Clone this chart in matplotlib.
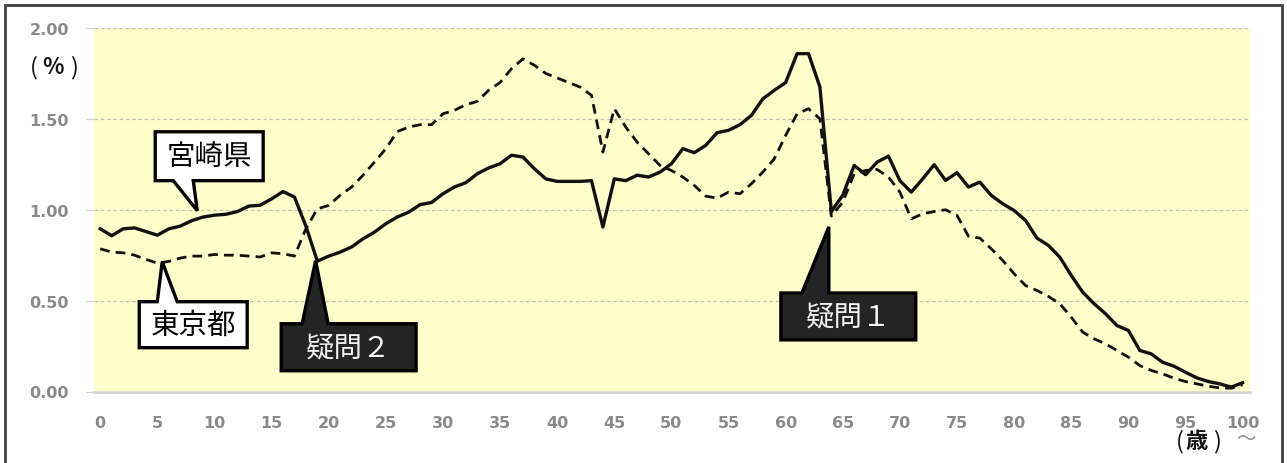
import matplotlib
matplotlib.use("Agg")
import matplotlib.pyplot as plt
from matplotlib.patches import Polygon, Rectangle
import numpy as np

plt.rcParams['font.family'] = ['Noto Sans CJK JP', 'DejaVu Sans']

ages = list(range(0, 101))
miyazaki = [0.895, 0.857, 0.895, 0.90, 0.88, 0.86, 0.895, 0.91, 0.94, 0.96,
            0.97, 0.975, 0.99, 1.02, 1.025, 1.06, 1.10, 1.07, 0.91, 0.717,
            0.745, 0.767, 0.795, 0.84, 0.877, 0.923, 0.96, 0.987, 1.028, 1.04,
            1.088, 1.125, 1.149, 1.198, 1.23, 1.253, 1.30, 1.29, 1.226, 1.17,
            1.156, 1.156, 1.156, 1.16, 0.905, 1.17, 1.16, 1.19, 1.18, 1.207,
            1.253, 1.336, 1.314, 1.354, 1.424, 1.437, 1.468, 1.519, 1.61, 1.657,
            1.70, 1.859, 1.859, 1.675, 0.99, 1.08, 1.244, 1.193, 1.262, 1.295,
            1.16, 1.097, 1.17, 1.248, 1.161, 1.204, 1.125, 1.152, 1.079, 1.033,
            0.996, 0.941, 0.844, 0.804, 0.739, 0.639, 0.547, 0.483, 0.428, 0.363,
            0.336, 0.226, 0.207, 0.161, 0.139, 0.106, 0.075, 0.055, 0.042, 0.024, 0.048]
tokyo = [0.785, 0.767, 0.763, 0.75, 0.727, 0.706, 0.716, 0.734, 0.745, 0.745,
         0.754, 0.75, 0.75, 0.745, 0.74, 0.763, 0.758, 0.745, 0.895, 1.005,
         1.024, 1.08, 1.125, 1.19, 1.262, 1.336, 1.43, 1.455, 1.468, 1.468,
         1.528, 1.547, 1.578, 1.596, 1.657, 1.70, 1.776, 1.83, 1.795, 1.75,
         1.725, 1.70, 1.675, 1.63, 1.317, 1.556, 1.455, 1.372, 1.308, 1.244,
         1.216, 1.18, 1.134, 1.075, 1.064, 1.097, 1.088, 1.143, 1.207, 1.28,
         1.409, 1.528, 1.556, 1.50, 0.965, 1.042, 1.198, 1.216, 1.222, 1.18,
         1.097, 0.95, 0.978, 0.99, 1.00, 0.969, 0.855, 0.844, 0.785, 0.721,
         0.648, 0.583, 0.556, 0.523, 0.483, 0.409, 0.327, 0.29, 0.262, 0.226,
         0.189, 0.143, 0.116, 0.097, 0.073, 0.055, 0.042, 0.029, 0.02, 0.018, 0.037]
x_ticks = list(range(0, 101, 5))
y_ticks = [0.0, 0.5, 1.0, 1.5, 2.0]
y_ticklabels = ["0.00", "0.50", "1.00", "1.50", "2.00"]

W, H = 1287, 464
fig = plt.figure(figsize=(W / 100, H / 100), dpi=100)
fig.patch.set_facecolor('white')
ax = fig.add_axes([94 / W, (H - 392.5) / H, (1250 - 94) / W, (392.5 - 29) / H])
ax.set_facecolor('#FFFFCC')
ax.set_xlim(-0.55, 100.65)
ax.set_ylim(0, 2.0)

for v in y_ticks[1:]:
    ax.axhline(v, color='#c4c4b4', lw=0.9, ls=(0, (3, 2)), zorder=1)

ax.plot(ages, tokyo, color='#111111', lw=2.0, ls=(0, (3.5, 2.2)), zorder=3)
ax.plot(ages, miyazaki, color='#111111', lw=2.4, zorder=4, solid_joinstyle='round')

for s in ['top', 'right', 'left']:
    ax.spines[s].set_visible(False)
ax.spines['bottom'].set_color('#d4d4d4')
ax.spines['bottom'].set_linewidth(1.8)

ax.set_xticks(x_ticks)
ax.set_xticklabels([str(t) for t in x_ticks], family='DejaVu Sans', fontweight='bold')
ax.set_yticks(y_ticks)
ax.set_yticklabels(y_ticklabels, family='DejaVu Sans', fontweight='bold')
ax.tick_params(axis='x', length=0, pad=17, labelsize=11.5, labelcolor='#8a8a8a')
ax.tick_params(axis='y', length=6, color='#d0d0d0', width=0.9, pad=12,
               labelsize=11.5, labelcolor='#8a8a8a')


def callout(x0, x1, y0, y1, bx0, bx1, tip, top_pointer, face, edge, text, tcolor):
    tx, ty = tip
    if top_pointer:
        verts = [(x0, y0), (x1, y0), (x1, y1), (bx1, y1), (tx, ty), (bx0, y1), (x0, y1)]
    else:
        verts = [(x0, y1), (x1, y1), (x1, y0), (bx1, y0), (tx, ty), (bx0, y0), (x0, y0)]
    ax.add_patch(Polygon(verts, closed=True, facecolor=face, edgecolor=edge,
                         lw=2.4, zorder=6, joinstyle='miter'))
    ax.text((x0 + x1) / 2, (y0 + y1) / 2, text, color=tcolor, fontsize=20.5,
            ha='center', va='center', zorder=7)


callout(4.81, 14.26, 1.160, 1.429, 6.39, 8.14, (8.49, 0.995), False,
        'white', 'black', '宮崎県', 'black')
callout(3.41, 12.86, 0.241, 0.494, 4.99, 6.74, (5.42, 0.714), True,
        'white', 'black', '東京都', 'black')
callout(15.84, 27.65, 0.114, 0.373, 17.67, 19.95, (18.85, 0.72), True,
        '#242424', 'black', '疑問２', '#f2f2f2')
callout(59.58, 71.39, 0.284, 0.542, 61.42, 63.78, (63.78, 0.906), True,
        '#242424', 'black', '疑問１', '#f2f2f2')


def spaced_label(parts, xs, y, sizes, weights):
    for p, xp, sz, wt in zip(parts, xs, sizes, weights):
        fig.text(xp / W, 1 - y / H, p, fontsize=sz, fontweight=wt,
                 ha='center', va='center', color='#111111')


spaced_label(['(', '%', ')'], [34, 53, 74], 68, [17, 16, 17],
             ['normal', 'bold', 'normal'])
spaced_label(['(', '歳', ')'], [1180, 1197, 1217], 442, [17, 16, 17],
             ['normal', 'bold', 'normal'])
fig.text(1246 / W, 1 - 440 / H, '～', fontsize=14, ha='center', va='center',
         color='#909090')

fig.patches.append(Rectangle((5 / W, -10 / H), (1282 - 5) / W, (458 + 10) / H,
                             transform=fig.transFigure, fill=False,
                             edgecolor='#404040', lw=2.0))

fig.savefig('out.png', dpi=100, facecolor='white')
